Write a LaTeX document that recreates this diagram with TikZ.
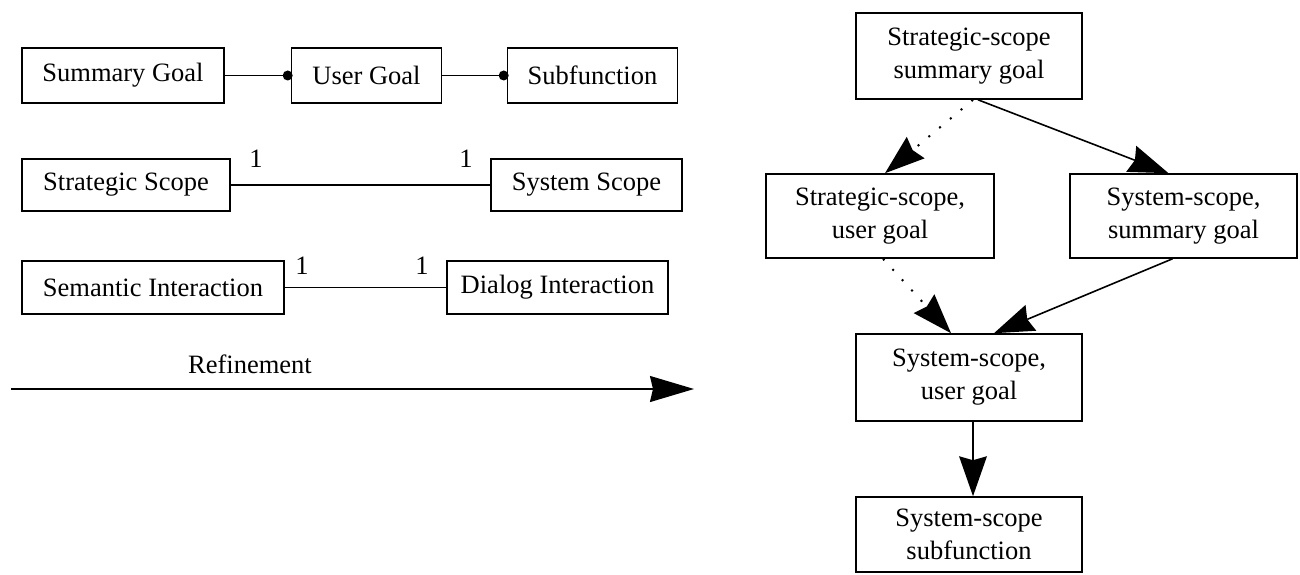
\documentclass[tikz,border=0pt]{standalone}
\usepackage{fontspec}
\setmainfont{Liberation Serif}
\usetikzlibrary{arrows.meta}
\tikzset{
  box/.style={draw, line width=1.6pt, inner sep=0pt, align=center,
    font=\fontsize{26.5}{33}\selectfont},
  lbl/.style={inner sep=0pt, font=\fontsize{26.5}{33}\selectfont},
  conn/.style={line width=1.6pt},
  dotconn/.style={line width=2pt, dash pattern=on 2pt off 12pt},
  bighead/.style={-{Stealth[length=40pt,width=28pt,inset=4pt,line width=0pt]}},
  knob/.style={fill=black, draw=none}
}
\begin{document}
\begin{tikzpicture}[x=1pt,y=-1pt]
\useasboundingbox (0,0) rectangle (1300,575);
% left column
\node[box, minimum width=202pt, minimum height=55pt] (sg) at (123,75.5) {Summary Goal};
\node[box, minimum width=150pt, minimum height=55pt] (ug) at (366.5,75.5) {User Goal};
\node[box, minimum width=170pt, minimum height=55pt] (sf) at (592.5,75.5) {Subfunction};
\draw[conn] (sg.east) -- (ug.west);
\draw[conn] (ug.east) -- (sf.west);
\fill[knob] ([xshift=-3pt]ug.west) circle (5pt);
\fill[knob] ([xshift=-3pt]sf.west) circle (5pt);

\node[box, minimum width=208pt, minimum height=52pt] (ss) at (126,185) {Strategic Scope};
\node[box, minimum width=191pt, minimum height=52pt] (sys) at (586.5,185) {System Scope};
\draw[conn] (ss.east) -- (sys.west);
\node[lbl] (m1) at (256,159) {1};
\node[lbl] (m2) at (466,159) {1};

\node[box, minimum width=262pt, minimum height=53pt] (semi) at (153,287.5) {Semantic Interaction};
\node[box, minimum width=221pt, minimum height=53pt] (dia) at (557.5,287.5) {Dialog Interaction};
\draw[conn] (semi.east) -- (dia.west);
\node[lbl] (m3) at (302,266) {1};
\node[lbl] (m4) at (422,266) {1};

\node[lbl] (ref) at (250,364) {Refinement};
\coordinate (ra) at (11,389);
\coordinate (rb) at (694,389);
\draw[conn, -{Stealth[length=44pt,width=26pt,inset=3pt]}] (ra) -- (rb);

% right column
\node[box, minimum width=226pt, minimum height=86pt] (top) at (969,56) {Strategic-scope\\summary goal};
\node[box, minimum width=228pt, minimum height=84pt] (sug) at (880,216) {Strategic-scope,\\user goal};
\node[box, minimum width=227pt, minimum height=84pt] (ssg) at (1183.5,216) {System-scope,\\summary goal};
\node[box, minimum width=226pt, minimum height=87pt] (sus) at (969,377.5) {System-scope,\\user goal};
\node[box, minimum width=226pt, minimum height=75pt] (ssf) at (969,534.5) {System-scope\\subfunction};

\draw[dotconn, bighead] ([xshift=4pt]top.south) -- ([xshift=5pt]sug.north);
\draw[conn, bighead] ([xshift=9pt]top.south) -- ([xshift=-15pt]ssg.north);
\draw[dotconn, bighead] ([xshift=3pt]sug.south) -- ([xshift=-18pt]sus.north);
\draw[conn, bighead] ([xshift=-11pt]ssg.south) -- ([xshift=25pt]sus.north);
\draw[conn, bighead] ([xshift=4pt]sus.south) -- ([xshift=4pt]ssf.north);
\end{tikzpicture}
\end{document}
